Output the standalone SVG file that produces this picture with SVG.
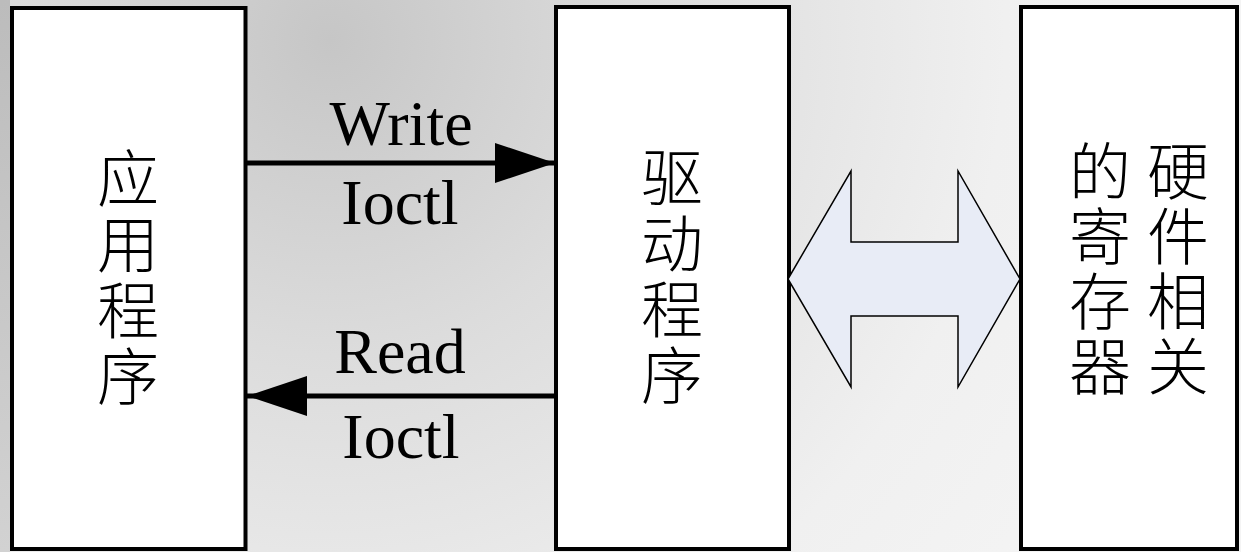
<svg xmlns="http://www.w3.org/2000/svg" width="1241" height="552" viewBox="0 0 1241 552">
<style>
.box{fill:#fff;stroke:#000;stroke-width:4}
.cn{font-family:"Noto Sans CJK SC","Noto Sans CJK JP",sans-serif;font-size:62px;fill:#000;font-weight:300;writing-mode:vertical-rl;text-anchor:start}
.en{font-family:"Liberation Serif",serif;font-size:64px;fill:#000;text-anchor:middle}
.conn{stroke:#000;stroke-width:5;fill:none}
</style>
<defs>
<radialGradient id="bg" gradientUnits="userSpaceOnUse" cx="330" cy="40" r="900">
<stop offset="0" stop-color="#c6c6c6"/>
<stop offset="0.35" stop-color="#dcdcdc"/>
<stop offset="0.75" stop-color="#f0f0f0"/>
<stop offset="1" stop-color="#f4f4f4"/>
</radialGradient>
<linearGradient id="strip" x1="0" y1="0" x2="0" y2="1">
<stop offset="0" stop-color="#bcbcbc"/>
<stop offset="1" stop-color="#d2d2d2"/>
</linearGradient>
<marker id="ah" markerUnits="userSpaceOnUse" viewBox="0 0 60 40" markerWidth="60" markerHeight="40" refX="60" refY="20" orient="auto">
<path d="M0,0 L60,20 L0,40 Z" fill="#000"/>
</marker>
</defs>
<rect x="0" y="0" width="1241" height="552" fill="url(#bg)"/>
<rect x="0" y="0" width="10" height="552" fill="url(#strip)"/>
<g id="app">
<rect class="box" x="12" y="8" width="233.5" height="541"/>
<text class="cn" x="128" y="147" letter-spacing="4">应用程序</text>
</g>
<g id="driver">
<rect class="box" x="556" y="7" width="233" height="542"/>
<text class="cn" x="672" y="146" letter-spacing="4">驱动程序</text>
</g>
<g id="hardware">
<rect class="box" x="1021" y="7" width="216" height="542"/>
<text class="cn" x="1178" y="140" letter-spacing="3">硬件相关</text>
<text class="cn" x="1100" y="140" letter-spacing="3">的寄存器</text>
</g>
<g id="connectors">
<line class="conn" x1="244" y1="163" x2="555" y2="163" marker-end="url(#ah)"/>
<line class="conn" x1="557" y1="396" x2="247" y2="396" marker-end="url(#ah)"/>
<polygon points="788,279 851,171 851,242 958,242 958,171 1020,279 958,387 958,316 851,316 851,387" fill="#e8ecf6" stroke="#000" stroke-width="1.5"/>
<text class="en" x="401" y="145">Write</text>
<text class="en" x="400" y="224">Ioctl</text>
<text class="en" x="400" y="373">Read</text>
<text class="en" x="401" y="458">Ioctl</text>
</g>
</svg>
